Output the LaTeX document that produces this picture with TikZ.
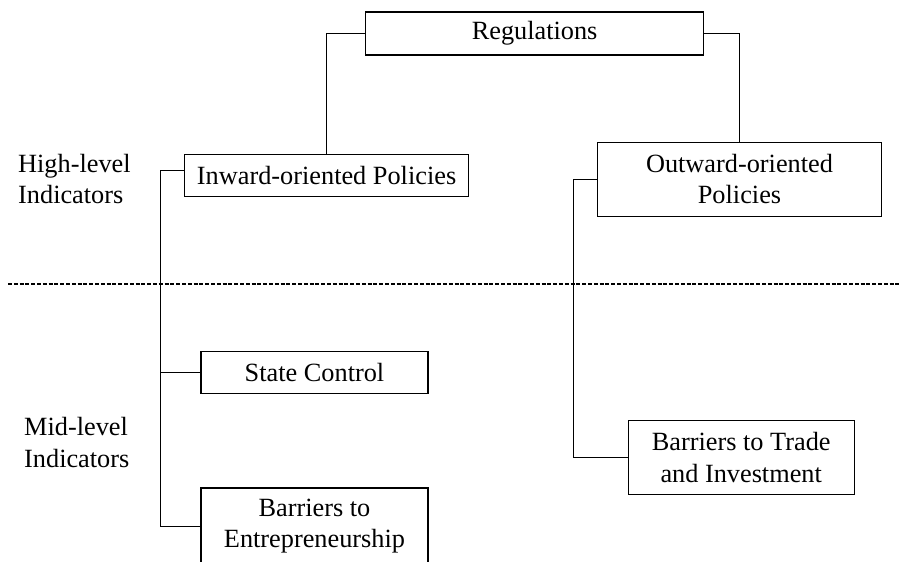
\documentclass[tikz,border=0pt]{standalone}
\usepackage{fontspec}
\setmainfont{Liberation Serif}
\begin{document}
\begin{tikzpicture}[x=1pt,y=-1pt,
		box/.style={draw, line width=1.1pt, align=center, inner sep=0pt},
		level/.style={align=left, anchor=west, inner sep=0pt},
		link/.style={line width=1pt},
		font=\fontsize{26.3}{31.5}\selectfont]
	\useasboundingbox (0,0) rectangle (900,562);
	% level labels
	\node[level] (high) at (18,179) {High-level\\Indicators};
	\node[level] (mid) at (24,442.4) {Mid-level\\Indicators};
	\coordinate (dl) at (8,283.5);
	\coordinate (dr) at (900,283.5);
	\draw[line width=2pt, dash pattern=on 4pt off 1.8pt] (dl) -- (dr);
	% boxes
	\node[box, minimum width=338pt, minimum height=43pt] (reg) at (534.6,33.5) {Regulations};
	\node[box, minimum width=284.4pt, minimum height=42.7pt] (inw) at (326.6,175.4) {Inward-oriented Policies};
	\node[box, minimum width=284.4pt, minimum height=73.7pt] (outw) at (739.5,179.2) {Outward-oriented\\Policies};
	\node[box, minimum width=227pt, minimum height=42.3pt] (state) at (314.5,372.2) {State Control};
	\node[box, minimum width=227pt, minimum height=76pt] (entr) at (314.5,526) {Barriers to\\Entrepreneurship};
	\node[box, minimum width=225.7pt, minimum height=74.7pt] (trade) at (741.2,457.5) {Barriers to Trade\\and Investment};
	% connectors
	\coordinate (lbus) at (160,0);
	\coordinate (rbus) at (573.2,0);
	\draw[link] (reg.west) -| (inw.north);
	\draw[link] (reg.east) -| (outw.north);
	\draw[link] ([yshift=5.4pt]inw.west) -| (lbus |- entr.west) -- (entr.west);
	\draw[link] (state.west) -- (lbus |- state.west);
	\draw[link] (outw.west) -| (rbus |- trade.west) -- (trade.west);
\end{tikzpicture}
\end{document}
